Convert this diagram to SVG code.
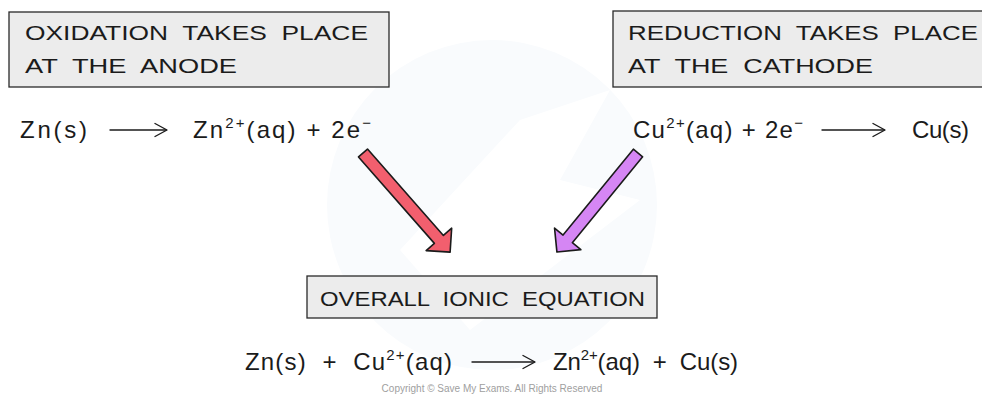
<svg xmlns="http://www.w3.org/2000/svg" width="982" height="396" viewBox="0 0 982 396">
<style>
.box{fill:#ececec;stroke:#2a2a2a;stroke-width:1.3}
.t{font-family:"Liberation Sans",Arial,sans-serif;fill:#1b1b1b}
.hd{font-size:20px}
.eq{font-size:24px}
.sup{font-size:15px}
.ar{stroke:#1b1b1b;stroke-width:1.4;fill:none;stroke-linecap:round;stroke-linejoin:round}
.red{fill:#f25f6e;stroke:#1b1b1b;stroke-width:1.6;stroke-linejoin:round}
.pur{fill:#d586f4;stroke:#1b1b1b;stroke-width:1.6;stroke-linejoin:round}
.copy{font-family:"Liberation Sans",Arial,sans-serif;font-size:10px;fill:#a0a0a0}
</style>
<rect width="982" height="396" fill="#ffffff"/>
<g id="watermark">
<circle cx="492" cy="205" r="165" fill="#f9fbfd"/>
<path d="M400 250 L520 120 L610 90 L560 180 L640 200 L470 330 Z" fill="#ffffff"/>
</g>
<g id="oxidation">
<rect class="box" x="9" y="12" width="380" height="75"/>
<text class="t hd" xml:space="preserve" x="25" y="40" textLength="343" lengthAdjust="spacingAndGlyphs">OXIDATION  TAKES  PLACE</text>
<text class="t hd" xml:space="preserve" x="25" y="73" textLength="212" lengthAdjust="spacingAndGlyphs">AT  THE  ANODE</text>
</g>
<g id="anode-eq">
<text class="t eq" x="20" y="138" textLength="67" lengthAdjust="spacing">Zn(s)</text>
<line class="ar" x1="110" y1="130" x2="166" y2="130"/>
<path class="ar" d="M155 123.5 L167 130 L155 136.5"/>
<text class="t eq" x="193" y="138" textLength="178" lengthAdjust="spacing">Zn<tspan class="sup" dy="-10">2+</tspan><tspan dy="10">(aq) + 2e</tspan><tspan class="sup" dy="-10">−</tspan></text>
</g>
<g id="reduction">
<rect class="box" x="613" y="11" width="380" height="76"/>
<text class="t hd" xml:space="preserve" x="628" y="40" textLength="350" lengthAdjust="spacingAndGlyphs">REDUCTION  TAKES  PLACE</text>
<text class="t hd" xml:space="preserve" x="628" y="73" textLength="245" lengthAdjust="spacingAndGlyphs">AT  THE  CATHODE</text>
</g>
<g id="cathode-eq">
<text class="t eq" x="633" y="138" textLength="170" lengthAdjust="spacing">Cu<tspan class="sup" dy="-10">2+</tspan><tspan dy="10">(aq) + 2e</tspan><tspan class="sup" dy="-10">−</tspan></text>
<line class="ar" x1="822" y1="130" x2="884" y2="130"/>
<path class="ar" d="M873 123.5 L885 130 L873 136.5"/>
<text class="t eq" x="912" y="138" textLength="57" lengthAdjust="spacing">Cu(s)</text>
</g>
<g id="connectors">
<polygon class="red" transform="translate(363,153) rotate(48.7)" points="0,-6 115,-6 115,-17 132,0 115,17 115,6 0,6"/>
<polygon class="pur" transform="translate(638,153) rotate(129.3)" points="0,-6 111,-6 111,-17 128,0 111,17 111,6 0,6"/>
</g>
<g id="overall">
<rect class="box" x="307" y="276" width="350" height="42"/>
<text class="t hd" xml:space="preserve" x="320" y="306" textLength="325" lengthAdjust="spacingAndGlyphs">OVERALL  IONIC  EQUATION</text>
</g>
<g id="overall-eq">
<text class="t eq" xml:space="preserve" x="245" y="370" textLength="207" lengthAdjust="spacing">Zn(s)  +  Cu<tspan class="sup" dy="-10">2+</tspan><tspan dy="10">(aq)</tspan></text>
<line class="ar" x1="472" y1="362" x2="534" y2="362"/>
<path class="ar" d="M523 355.5 L535 362 L523 368.5"/>
<text class="t eq" xml:space="preserve" x="553" y="370" textLength="185" lengthAdjust="spacing">Zn<tspan class="sup" dy="-10">2+</tspan><tspan dy="10">(aq)  +  Cu(s)</tspan></text>
</g>
<text class="copy" x="492" y="392" text-anchor="middle">Copyright © Save My Exams. All Rights Reserved</text>
</svg>
